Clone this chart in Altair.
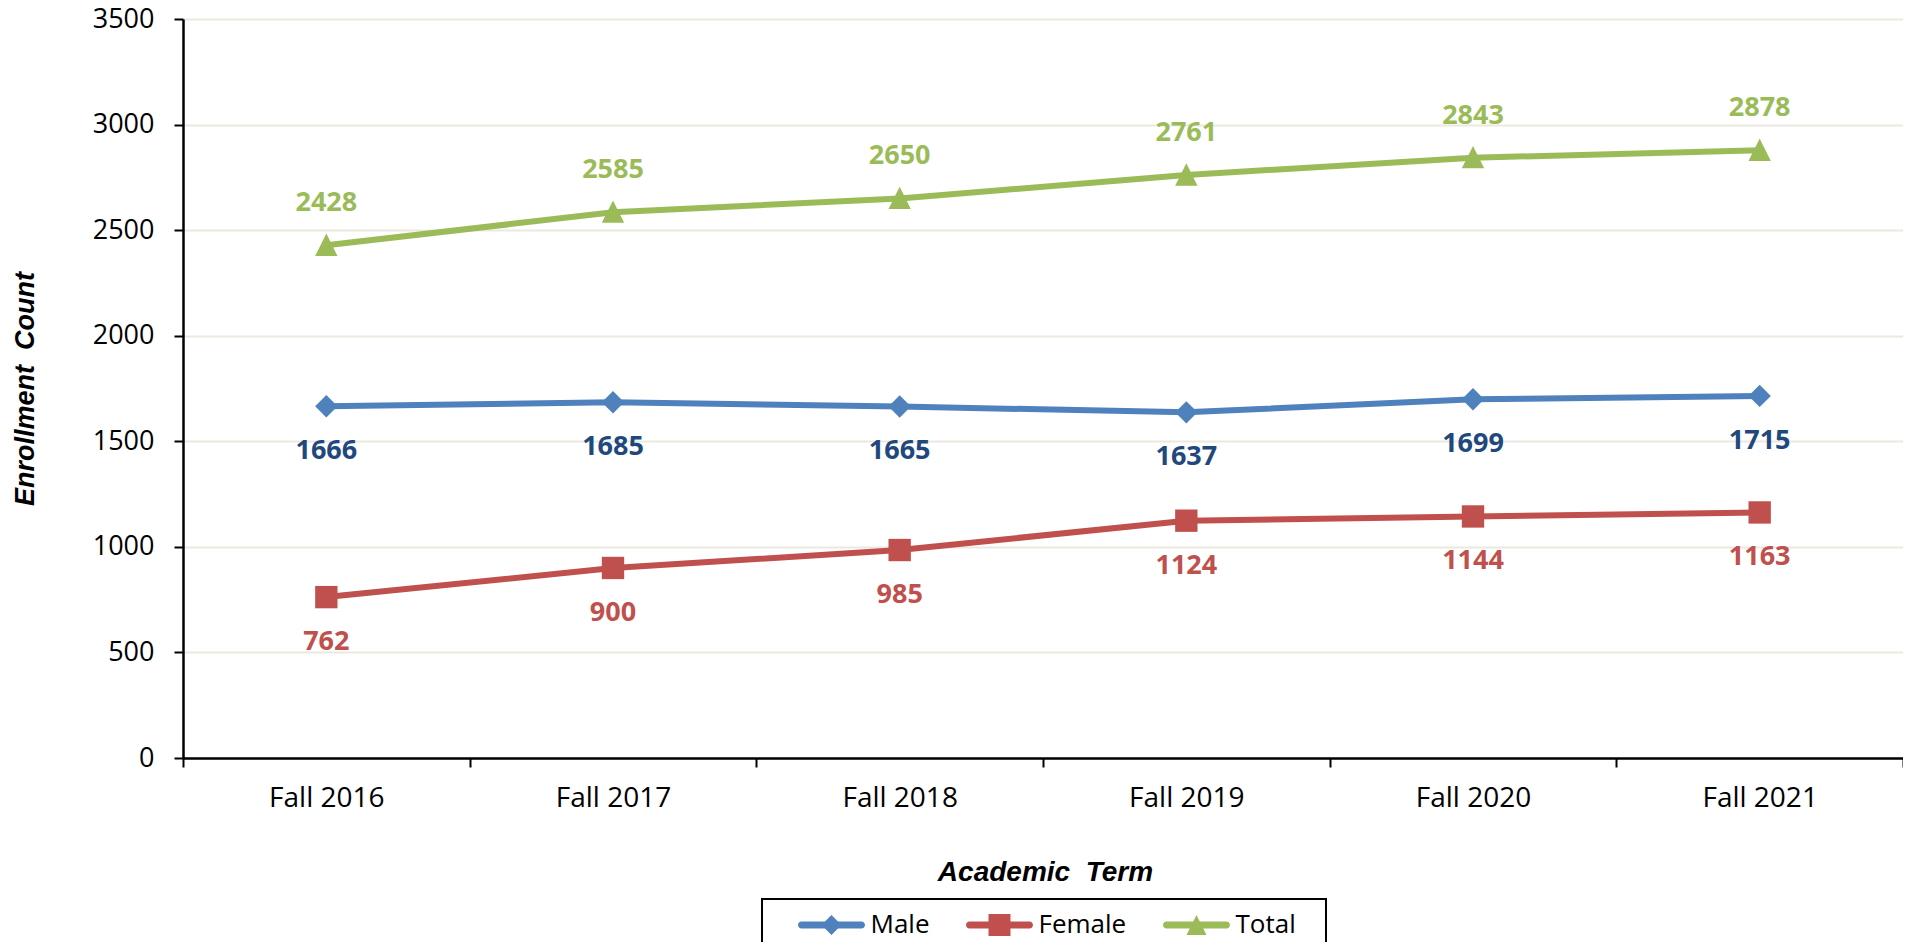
import altair as alt
import pandas as pd

terms = ["Fall 2016", "Fall 2017", "Fall 2018", "Fall 2019", "Fall 2020", "Fall 2021"]
male = [1666, 1685, 1665, 1637, 1699, 1715]
female = [762, 900, 985, 1124, 1144, 1163]
total = [2428, 2585, 2650, 2761, 2843, 2878]

series = ["Male", "Female", "Total"]
line_colors = ["#4F81BD", "#C0504D", "#9BBB59"]
label_colors = ["#1F497D", "#C0504D", "#9BBB59"]
y_ticks = [0, 500, 1000, 1500, 2000, 2500, 3000, 3500]

rows = []
for name, vals in zip(series, [male, female, total]):
    for t, v in zip(terms, vals):
        rows.append({"term": t, "series": name, "value": v})
df = pd.DataFrame(rows)

tri = "M0,-1.05 L1,0.95 L-1,0.95 Z"
point_shapes = ["diamond", "square", tri]

# legend symbols: a rounded line with the marker on top (unit = 15px)
bar = "M-2,-0.233 L2,-0.233 A0.233,0.233 0 0 1 2,0.233 L-2,0.233 A0.233,0.233 0 0 1 -2,-0.233 Z "
legend_shapes = [
    bar + "M0,-0.667 L0.667,0 L0,0.667 L-0.667,0 Z",
    bar + "M-0.733,-0.733 L0.733,-0.733 L0.733,0.733 L-0.733,0.733 Z",
    bar + "M0,-0.667 L0.667,0.667 L-0.667,0.667 Z",
]

x_enc = alt.X(
    "term:O",
    sort=terms,
    scale=alt.Scale(type="band", paddingInner=0, paddingOuter=0),
    axis=alt.Axis(
        title="Academic\u00a0 Term",
        labelAngle=0,
        tickBand="extent",
        labelFont="Open Sans",
        labelFontSize=28,
        labelColor="black",
        labelPadding=17,
        tickSize=9,
        tickColor="black",
        tickWidth=2,
        domainColor="black",
        domainWidth=2.5,
        grid=False,
        titleFont="Liberation Sans",
        titleFontSize=28,
        titleFontWeight="bold",
        titleFontStyle="italic",
        titleColor="black",
        titleX=862,
        titleY=122,
        titleBaseline="alphabetic",
        titleAlign="center",
    ),
)

y_enc = alt.Y(
    "value:Q",
    scale=alt.Scale(domain=[0, 3500], nice=False),
    axis=alt.Axis(
        title="Enrollment\u00a0 Count",
        values=y_ticks,
        format="d",
        labelFont="Open Sans",
        labelFontSize=27,
        labelColor="black",
        labelPadding=20,
        tickSize=9,
        tickColor="black",
        tickWidth=2,
        domainColor="black",
        domainWidth=2.5,
        grid=True,
        gridColor="#EBE9DF",
        gridWidth=2,
        titleFont="Liberation Sans",
        titleFontSize=27,
        titleFontWeight="bold",
        titleFontStyle="italic",
        titleColor="black",
        titleAngle=-90,
        titleX=-150,
        titleY=369.5,
        titleBaseline="alphabetic",
        titleAlign="center",
    ),
)

base = alt.Chart(df)

lines = base.mark_line(strokeWidth=6).encode(
    x=x_enc,
    y=y_enc,
    color=alt.Color("series:N", scale=alt.Scale(domain=series, range=line_colors), legend=None),
    detail="series:N",
)

points = base.mark_point(filled=True, opacity=1, size=500).encode(
    x=alt.X("term:O", sort=terms),
    y="value:Q",
    color=alt.Color("series:N", scale=alt.Scale(domain=series, range=line_colors), legend=None),
    shape=alt.Shape("series:N", scale=alt.Scale(domain=series, range=point_shapes), legend=None),
)

label_color = alt.Color("series:N", scale=alt.Scale(domain=series, range=label_colors), legend=None)

labels_above = base.transform_filter(alt.datum.series == "Total").mark_text(
    font="Open Sans", fontSize=27, fontWeight="bold", dy=-42, baseline="middle"
).encode(
    x=alt.X("term:O", sort=terms), y="value:Q", text="value:Q", color=label_color
)

labels_below = base.transform_filter(alt.datum.series != "Total").mark_text(
    font="Open Sans", fontSize=27, fontWeight="bold", dy=45, baseline="middle"
).encode(
    x=alt.X("term:O", sort=terms), y="value:Q", text="value:Q", color=label_color
)


def make_legend():
    return alt.Legend(
        title="\u00a0",
        titleOrient="left",
        titleFontSize=1,
        titlePadding=25,
        orient="none",
        legendX=579,
        legendY=880,
        direction="horizontal",
        symbolSize=900,
        symbolStrokeWidth=0,
        symbolOffset=18.5,
        labelOffset=24,
        labelFont="Open Sans",
        labelFontSize=26,
        labelColor="black",
        labelExpr="datum.label == 'Total' ? 'Total\u2800' : datum.label",
        columnPadding=36,
        padding=11,
        strokeColor="black",
        symbolOpacity=1,
    )


legend_layer = base.transform_filter(alt.datum.value < 0).mark_point(filled=True, opacity=1).encode(
    x=alt.X("term:O", sort=terms),
    y="value:Q",
    fill=alt.Fill("series:N", scale=alt.Scale(domain=series, range=line_colors), legend=make_legend()),
    shape=alt.Shape("series:N", scale=alt.Scale(domain=series, range=legend_shapes), legend=make_legend()),
)

chart = (
    alt.layer(lines, points, labels_above, labels_below, legend_layer)
    .resolve_scale(color="independent", shape="independent", fill="independent")
    .properties(
        width=1720,
        height=739,
        autosize=alt.AutoSizeParams(type="none"),
        padding={"left": 175, "top": 11, "right": 0, "bottom": 184},
        background="white",
    )
    .configure_view(stroke=None)
    .configure_legend(strokeWidth=2)
)

chart.save("out.html", embed_options={"renderer": "svg", "actions": False})
